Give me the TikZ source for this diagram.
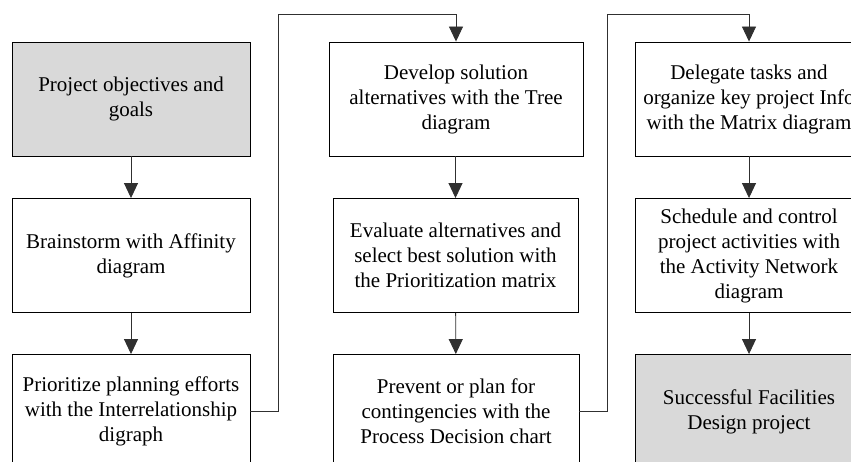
\documentclass[tikz,border=0pt]{standalone}
\usepackage{fontspec}
\setmainfont{Liberation Serif}
\usetikzlibrary{arrows.meta}
\definecolor{boxgray}{HTML}{D9D9D9}
\definecolor{lineclr}{HTML}{303030}
\begin{document}
\begin{tikzpicture}[x=1pt,y=-1pt,
  stepbox/.style={draw=black,line width=0.9pt,rectangle,align=center,
    inner sep=0pt,minimum height=114pt,
    font=\fontsize{21}{25}\selectfont},
  endbox/.style={stepbox,fill=boxgray},
  conn/.style={draw=lineclr,line width=0.9pt},
  flow/.style={conn,-{Triangle[length=15pt,width=14pt]}}]
\useasboundingbox (0,0) rectangle (851,462);
\clip (0,0) rectangle (851,462);

% first column
\node[endbox,minimum width=238pt]  (obj)   at (131,99)  {Project objectives and\\goals};
\node[stepbox,minimum width=238pt] (brain) at (131,255.5) {Brainstorm with Affinity\\diagram};
\node[stepbox,minimum width=238pt] (prio)  at (131,411.5) {Prioritize planning efforts\\with the Interrelationship\\digraph};

% second column
\node[stepbox,minimum width=254pt] (develop)  at (456,99)  {Develop solution\\alternatives with the Tree\\diagram};
\node[stepbox,minimum width=245pt] (evaluate) at (455.5,255.5) {Evaluate alternatives and\\select best solution with\\the Prioritization matrix};
\node[stepbox,minimum width=246pt] (prevent)  at (456,411.5) {Prevent or plan for\\contingencies with the\\Process Decision chart};

% third column
\node[stepbox,minimum width=228pt] (delegate) at (749,99)  {Delegate tasks and\\organize key project Info\\with the Matrix diagram};
\node[stepbox,minimum width=228pt] (schedule) at (749,255.5) {Schedule and control\\project activities with\\the Activity Network\\diagram};
\node[endbox,minimum width=228pt]  (success)  at (749,411.5) {Successful Facilities\\Design project};

% vertical flow inside each column
\draw[flow] (obj) -- (brain);
\draw[flow] (brain) -- (prio);
\draw[flow] (develop.south -| evaluate.north) -- (evaluate);
\draw[flow] (evaluate) -- (prevent);
\draw[flow] (delegate) -- (schedule);
\draw[flow] (schedule) -- (success);

% links from the bottom of one column to the top of the next
\coordinate (hopA) at (278,14);
\coordinate (hopB) at (607,14);
\draw[flow] (prio.east) -| (hopA) -| (develop.north);
\draw[flow] (prevent.east) -| (hopB) -| (delegate.north);
\end{tikzpicture}
\end{document}
